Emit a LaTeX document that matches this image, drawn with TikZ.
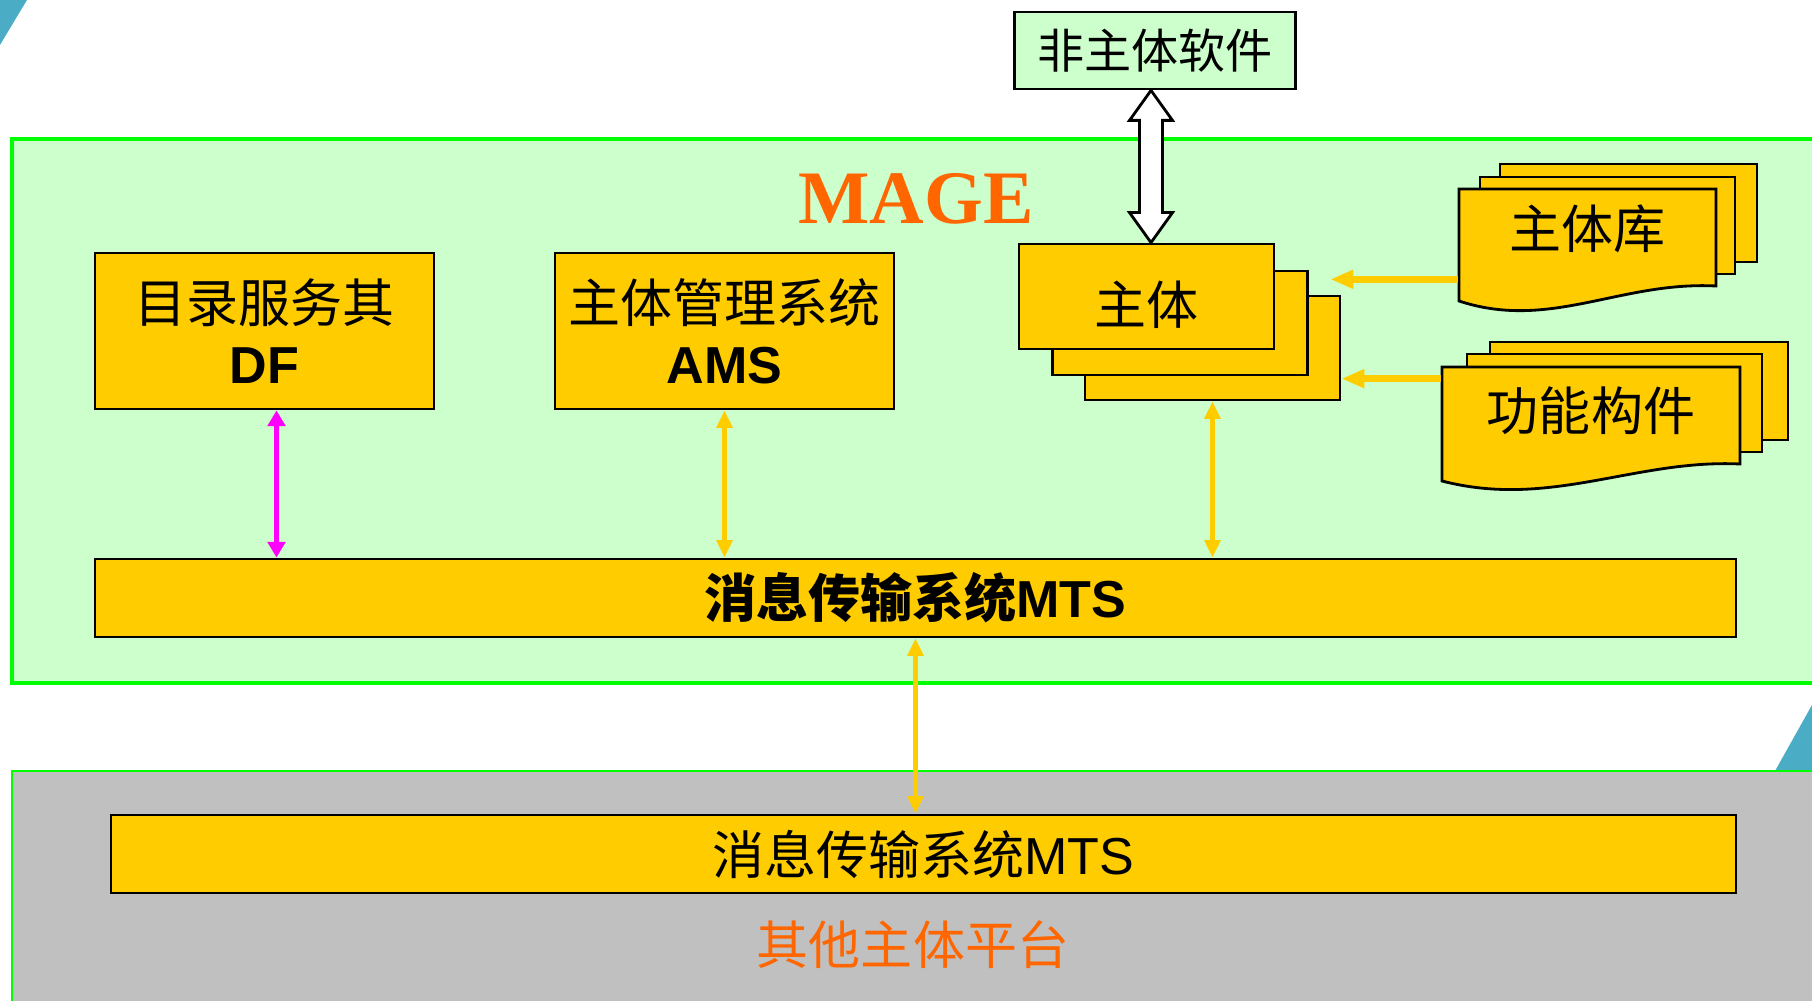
\documentclass[tikz,border=0pt]{standalone}
\usepackage{fontspec}
\setmainfont{Liberation Sans}
\newfontfamily\cjk{Noto Sans CJK SC}
\newfontfamily\tms{Liberation Serif}
\usetikzlibrary{arrows.meta,calc}
\definecolor{qlv}{HTML}{CCFFCC}
\definecolor{lv}{HTML}{00FF00}
\definecolor{huang}{HTML}{FFCC00}
\definecolor{cheng}{HTML}{FF6600}
\definecolor{hui}{HTML}{C0C0C0}
\definecolor{lan}{HTML}{4BACC6}
\definecolor{zi}{HTML}{FF00FF}
\tikzset{every picture/.style={line width=0.75pt}}

\begin{document}
\begin{tikzpicture}[
    box/.style={draw, fill=huang, line width=0.8pt, inner sep=0pt, align=center,
                font=\fontsize{14.8}{17.4}\selectfont},
    yarrow/.style={huang, line width=1.2pt,
                {Triangle[length=5pt,width=4.5pt]}-{Triangle[length=5pt,width=4.5pt]}},
    marrow/.style={zi, line width=1.6pt,
                {Triangle[length=4.5pt,width=5pt]}-{Triangle[length=4.5pt,width=5pt]}},
    larrow/.style={huang, line width=2pt, -{Triangle[length=6.5pt,width=5pt]}}
]
    \useasboundingbox (0,0) rectangle (18.12,10.01);

    % 绘制背景角落
    \fill[lan] (0,10.01) -- (0.27,10.01) -- (0,9.56) -- cycle;
    \fill[lan] (18.12,2.96) -- (18.12,2.30) -- (17.75,2.30) -- cycle;

    % 绘制 MAGE 平台
    \fill[qlv] (0.12,3.18) rectangle (18.12,8.62);
    \draw[lv, line width=1.1pt] (18.12,8.62) -- (0.12,8.62) -- (0.12,3.18) -- (18.12,3.18);
    \node[font=\tms\bfseries\fontsize{21.5}{24}\selectfont, text=cheng] (mage) at (9.16,8.02) {MAGE};

    % 绘制其他主体平台
    \fill[hui] (0.12,0) rectangle (18.12,2.30);
    \draw[lv, line width=0.5pt] (18.12,2.30) -- (0.12,2.30) -- (0.12,0);
    \node[font=\cjk\fontsize{14.8}{18}\selectfont, text=cheng] (other) at (9.13,0.56) {其他主体平台};

    % 绘制系统组件
    \node[box, minimum width=3.39cm, minimum height=1.56cm] (df) at (2.645,6.70)
        {{\cjk 目录服务其}\\\textbf{DF}};
    \node[box, minimum width=3.39cm, minimum height=1.56cm] (ams) at (7.245,6.70)
        {{\cjk 主体管理系统}\\\textbf{AMS}};
    \node[box, minimum width=16.41cm, minimum height=0.78cm] (mts) at (9.155,4.03)
        {{\cjk\bfseries 消息传输系统}\textbf{MTS}};
    \node[box, minimum width=16.25cm, minimum height=0.78cm] (mtsB) at (9.235,1.47)
        {{\cjk 消息传输系统}MTS};
    \node[box, fill=qlv, minimum width=2.805cm, minimum height=0.77cm,
          font=\cjk\fontsize{13.4}{16}\selectfont] (soft) at (11.55,9.505) {非主体软件};

    % 绘制主体
    \node[box, minimum width=2.55cm, minimum height=1.04cm] (zt3) at (12.125,6.53) {};
    \node[box, minimum width=2.55cm, minimum height=1.04cm] (zt2) at (11.80,6.78) {};
    \node[box, minimum width=2.55cm, minimum height=1.05cm, text height=16pt, text depth=0.2pt,
          font=\cjk\fontsize{14.8}{18}\selectfont] (zt1) at (11.465,7.045) {主体};

    % 绘制主体库
    \draw[fill=huang, line width=0.8pt] (15.00,7.39) rectangle (17.57,8.37);
    \draw[fill=huang, line width=0.8pt] (14.80,7.27) rectangle (17.35,8.24);
    \draw[fill=huang, line width=0.8pt] (14.59,8.12) -- (17.16,8.12) -- (17.16,7.15)
        .. controls (16.2,7.2) and (15.5,6.7) .. (14.59,7.00) -- cycle;
    \node[inner sep=0pt, minimum width=2.57cm, minimum height=0.97cm,
          font=\cjk\fontsize{14.8}{18}\selectfont] (lib) at (15.875,7.725) {主体库};

    % 绘制功能构件
    \draw[fill=huang, line width=0.8pt] (14.90,5.61) rectangle (17.88,6.59);
    \draw[fill=huang, line width=0.8pt] (14.67,5.49) rectangle (17.62,6.47);
    \draw[fill=huang, line width=0.8pt] (14.42,6.34) -- (17.40,6.34) -- (17.40,5.37)
        .. controls (16.35,5.42) and (15.5,4.92) .. (14.42,5.20) -- cycle;
    \node[inner sep=0pt, minimum width=2.98cm, minimum height=0.97cm,
          font=\cjk\fontsize{14.8}{18}\selectfont] (comp) at (15.91,5.905) {功能构件};

    % 绘制消息连接
    \draw[marrow] ($(df.south)+(0.12,0)$) -- ($(df.south |- mts.north)+(0.12,0)$);
    \draw[yarrow] (ams.south) -- (ams.south |- mts.north);
    \draw[yarrow] (zt3.south) -- (zt3.south |- mts.north);
    \draw[yarrow] (mts.south) -- (mts.south |- mtsB.north);
    \draw[larrow] ($(lib.south west)+(0,-0.01)$) -- ($(zt3.east |- lib.south west)+(-0.11,-0.01)$);
    \draw[larrow] ($(comp.north west)+(0,-0.18)$) -- ($(zt3.east |- comp.north west)+(0,-0.18)$);

    % 绘制外部接口
    \coordinate (sa) at ($(soft.south)+(-0.04,0)$);
    \coordinate (sb) at (sa |- zt1.north);
    \draw[fill=white, line width=0.8pt] (sa) -- ++(0.215,-0.30) -- ++(-0.10,0)
        -- ($(sb)+(0.115,0.30)$) -- ++(0.10,0) -- (sb) -- ++(-0.215,0.30) -- ++(0.10,0)
        -- ($(sa)+(-0.115,-0.30)$) -- ++(-0.10,0) -- cycle;
\end{tikzpicture}
\end{document}
